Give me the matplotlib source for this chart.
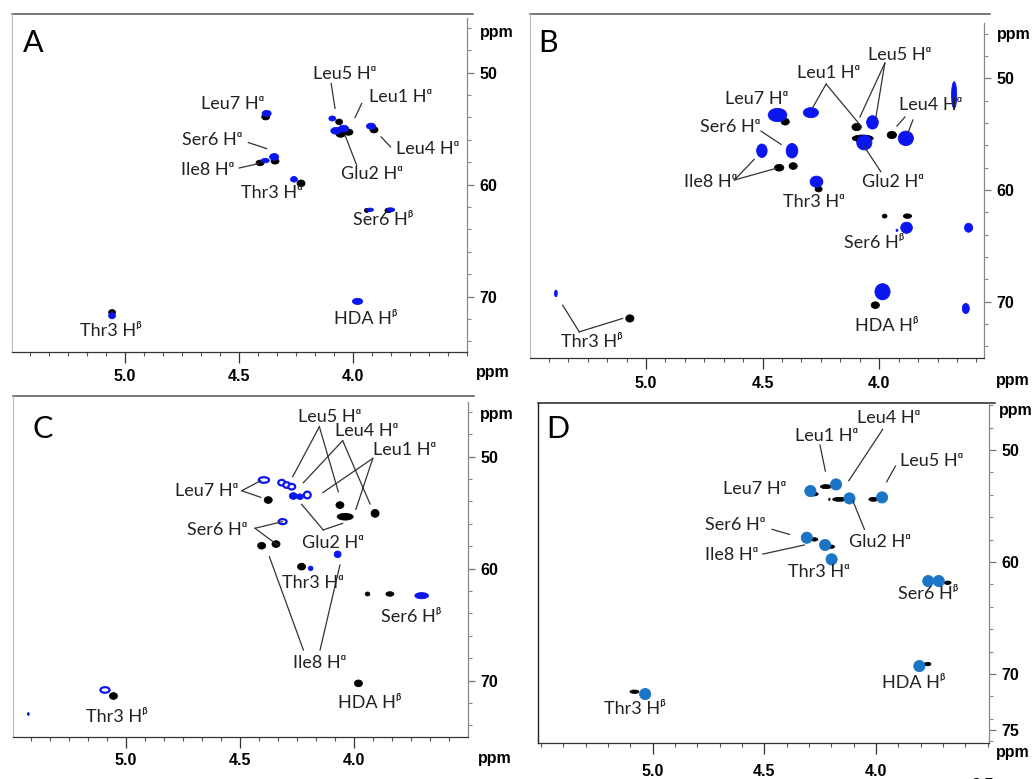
import matplotlib
matplotlib.use("Agg")
import matplotlib.pyplot as plt
from matplotlib.patches import Ellipse
from matplotlib.ticker import MultipleLocator, FixedLocator

W, H = 1036, 779
BLUE = '#0b16ee'
BLUE_D = '#1b75c6'
LBL_FONT = ['Lato', 'DejaVu Sans']
TICK_FONT = 'Liberation Sans'
A_ = 'H\u1d45'   # H alpha
B_ = 'H\u1d5d'   # H beta

# peaks: (1H ppm, 13C ppm, width ppm, height ppm)
a_black = [(4.383, 53.94, .035, .55), (4.061, 54.39, .03, .5), (4.054, 55.49, .04, .55),
           (4.020, 55.31, .04, .55), (3.908, 55.10, .035, .55), (4.342, 57.91, .035, .5),
           (4.408, 58.06, .035, .5), (4.228, 59.88, .035, .6), (3.940, 62.30, .02, .35),
           (3.845, 62.30, .03, .4), (3.980, 70.42, .03, .4), (5.057, 71.40, .03, .5)]
a_blue = [(4.379, 53.64, .04, .55), (4.091, 54.09, .03, .45), (4.075, 55.19, .045, .6),
          (4.042, 54.99, .045, .6), (3.921, 54.78, .04, .55), (4.346, 57.52, .04, .6),
          (4.385, 57.85, .035, .4), (4.259, 59.52, .03, .5), (3.925, 62.24, .03, .3),
          (3.835, 62.24, .035, .35), (3.980, 70.42, .045, .55), (5.057, 71.70, .03, .55)]

b_black = [(4.403, 53.88, .035, .6), (4.097, 54.36, .04, .65), (4.071, 55.37, .09, .6),
           (3.946, 55.07, .04, .65), (4.429, 58.00, .04, .6), (4.369, 57.85, .035, .6),
           (4.260, 59.91, .03, .5), (3.977, 62.33, .02, .35), (3.879, 62.33, .035, .4),
           (4.017, 70.30, .035, .6), (5.069, 71.49, .035, .65)]
b_blue = [(4.436, 53.28, .08, 1.2), (4.293, 53.07, .065, .9), (4.029, 53.94, .05, 1.2),
          (4.064, 55.76, .065, 1.3), (3.886, 55.37, .065, 1.3), (3.679, 51.50, .022, 2.4),
          (4.503, 56.48, .045, 1.2), (4.374, 56.48, .05, 1.3), (4.269, 59.25, .055, 1.0),
          (3.883, 63.37, .05, 1.0), (3.924, 63.60, .008, .2), (3.617, 63.37, .035, .8),
          (3.986, 69.10, .065, 1.45), (3.629, 70.60, .03, .9), (5.386, 69.25, .012, .6)]

c_black = [(4.377, 53.87, .035, .6), (4.063, 54.32, .035, .6), (4.040, 55.36, .07, .6),
           (3.909, 55.06, .035, .7), (4.406, 57.95, .035, .6), (4.343, 57.80, .035, .6),
           (4.231, 59.82, .035, .6), (3.942, 62.26, .02, .35), (3.844, 62.26, .035, .4),
           (3.982, 70.24, .035, .6), (5.055, 71.37, .035, .6)]
c_blue = [(4.396, 52.08, .045, .5), (4.318, 52.32, .03, .5), (4.296, 52.53, .03, .5),
          (4.274, 52.68, .03, .5), (4.267, 53.51, .035, .6), (4.238, 53.57, .03, .5),
          (4.206, 53.42, .03, .6), (4.314, 55.80, .035, .45), (4.073, 58.72, .03, .6),
          (4.191, 59.97, .02, .4), (3.705, 62.41, .06, .55), (5.092, 70.83, .04, .5),
          (5.428, 72.98, .008, .25)]
c_blue_open = [True, True, True, True, False, False, True, True, False, False, False, True, False]

d_black = [(4.284, 53.93, .05, .35), (4.224, 53.27, .05, .35), (4.164, 54.40, .06, .35),
           (4.209, 54.40, .006, .2), (4.012, 54.40, .04, .35), (4.276, 57.98, .03, .3),
           (4.201, 58.63, .03, .3), (3.679, 61.85, .03, .3), (3.769, 69.11, .03, .3),
           (5.082, 71.58, .04, .3)]
d_blue = [(4.294, 53.66, .05, 1.0), (4.179, 53.07, .05, 1.0), (4.119, 54.32, .05, 1.0),
          (3.973, 54.23, .05, 1.0), (4.310, 57.83, .05, 1.0), (4.228, 58.48, .05, 1.0),
          (4.199, 59.76, .05, 1.0), (3.766, 61.70, .05, 1.0), (3.719, 61.70, .05, 1.0),
          (3.806, 69.29, .05, 1.0), (5.034, 71.79, .05, 1.0)]

# labels: (text, x, y)
a_labels = [('Leu5 ' + A_, 4.035, 50.12), ('Leu1 ' + A_, 3.791, 52.15), ('Leu7 ' + A_, 4.529, 52.81),
            ('Ser6 ' + A_, 4.620, 55.97), ('Leu4 ' + A_, 3.671, 56.84), ('Ile8 ' + A_, 4.636, 58.72),
            ('Glu2 ' + A_, 3.917, 59.01), ('Thr3 ' + A_, 4.357, 60.75), ('Ser6 ' + B_, 3.867, 63.19),
            ('HDA ' + B_, 3.944, 72.0), ('Thr3 ' + B_, 5.063, 73.04)]
b_labels = [('Leu5 ' + A_, 3.914, 47.91), ('Leu1 ' + A_, 4.217, 49.55), ('Leu7 ' + A_, 4.526, 51.85),
            ('Leu4 ' + A_, 3.779, 52.39), ('Ser6 ' + A_, 4.639, 54.33), ('Ile8 ' + A_, 4.721, 59.25),
            ('Glu2 ' + A_, 3.943, 59.25), ('Thr3 ' + A_, 4.279, 61.04), ('Ser6 ' + B_, 4.021, 64.72),
            ('HDA ' + B_, 3.969, 72.18), ('Thr3 ' + B_, 5.231, 73.58)]
c_labels = [('Leu5 ' + A_, 4.109, 46.43), ('Leu4 ' + A_, 3.946, 47.68), ('Leu1 ' + A_, 3.778, 49.40),
            ('Leu7 ' + A_, 4.647, 53.04), ('Ser6 ' + A_, 4.599, 56.55), ('Glu2 ' + A_, 4.096, 57.68),
            ('Thr3 ' + A_, 4.180, 61.31), ('Ser6 ' + B_, 3.752, 64.35), ('Ile8 ' + A_, 4.150, 68.39),
            ('HDA ' + B_, 3.931, 72.02), ('Thr3 ' + B_, 5.041, 73.21)]
d_labels = [('Leu4 ' + A_, 3.943, 47.17), ('Leu1 ' + A_, 4.221, 48.75), ('Leu5 ' + A_, 3.751, 50.95),
            ('Leu7 ' + A_, 4.542, 53.51), ('Ser6 ' + A_, 4.631, 56.70), ('Glu2 ' + A_, 3.981, 58.18),
            ('Ile8 ' + A_, 4.649, 59.38), ('Thr3 ' + A_, 4.258, 60.86), ('Ser6 ' + B_, 3.766, 62.86),
            ('HDA ' + B_, 3.833, 70.83), ('Thr3 ' + B_, 5.082, 73.15)]

# leader lines (x0, y0, x1, y1)
a_lines = [(4.096, 50.96, 4.079, 53.19), (3.962, 52.75, 3.991, 54.0), (4.459, 56.24, 4.379, 56.78),
           (3.877, 55.73, 3.835, 56.63), (4.499, 58.51, 4.415, 58.12), (4.035, 55.58, 3.984, 58.27)]
b_lines = [(4.228, 50.51, 4.284, 52.57), (4.228, 50.51, 4.078, 54.27),
           (3.976, 48.63, 4.083, 53.46), (3.976, 48.63, 4.014, 53.46),
           (3.890, 53.46, 3.924, 54.27), (3.856, 53.73, 3.877, 54.90),
           (4.507, 54.72, 4.421, 55.91),
           (4.621, 59.10, 4.536, 57.25), (4.621, 59.10, 4.443, 58.06),
           (3.993, 58.36, 4.064, 56.12),
           (5.286, 72.69, 5.357, 70.30), (5.286, 72.69, 5.10, 71.49)]
c_lines = [(4.153, 47.32, 4.270, 51.79), (4.153, 47.32, 4.070, 53.13),
           (4.051, 48.57, 4.223, 52.32), (4.051, 48.57, 3.931, 54.22),
           (3.919, 50.15, 4.138, 53.21), (3.919, 50.15, 3.993, 54.70),
           (4.136, 56.54, 4.231, 54.25), (4.136, 56.54, 4.051, 55.95),
           (4.493, 53.04, 4.410, 52.14), (4.493, 53.04, 4.410, 53.63),
           (4.435, 56.39, 4.315, 55.80), (4.435, 56.39, 4.337, 57.88),
           (4.223, 67.26, 4.372, 58.93), (4.150, 67.26, 4.063, 59.67)]
d_lines = [(4.251, 49.55, 4.227, 51.88), (3.970, 48.15, 4.122, 52.74), (3.913, 51.43, 3.952, 52.83),
           (4.466, 57.08, 4.388, 57.53), (4.507, 59.29, 4.321, 58.48), (4.052, 57.08, 4.104, 54.52)]

fig = plt.figure(figsize=(W / 100, H / 100), dpi=100)


def px_axes(l, t, r, b):
    return fig.add_axes([l / W, 1 - b / H, (r - l) / W, (b - t) / H])


def fig_text(x, y, s, **kw):
    fig.text(x / W, 1 - y / H, s, ha='center', va='center', **kw)


def setup(ax, xlim, ylim, ytop, xminor, yticks, xpad, dark=False):
    ax.set_xlim(*xlim)
    ax.set_ylim(*ylim)
    ax.yaxis.tick_right()
    ax.xaxis.set_major_locator(FixedLocator([5.0, 4.5, 4.0]))
    ax.xaxis.set_minor_locator(MultipleLocator(xminor))
    ax.yaxis.set_major_locator(FixedLocator(yticks))
    ax.yaxis.set_minor_locator(MultipleLocator(2))
    ax.xaxis.set_major_formatter(plt.FuncFormatter(lambda v, p: '%.1f' % v))
    ax.tick_params(axis='x', which='major', length=8, width=0.9, color='#333', pad=xpad,
                   labelsize=11.5)
    ax.tick_params(axis='x', which='minor', length=3, width=0.8, color='#555')
    ax.tick_params(axis='y', which='major', length=5, width=0.9, color='#777', pad=4,
                   labelsize=11.5)
    ax.tick_params(axis='y', which='minor', length=3, width=0.8, color='#888')
    for t in ax.get_xticklabels() + ax.get_yticklabels():
        t.set_fontweight('bold')
        t.set_fontfamily(TICK_FONT)
    ax.spines['left'].set_color('#222' if dark else '#bbbbbb')
    ax.spines['left'].set_linewidth(1.0 if dark else 0.8)
    ax.spines['right'].set_color('#888')
    ax.spines['right'].set_linewidth(0.9)
    ax.spines['right'].set_bounds(ylim[0], ytop)
    ax.spines['bottom'].set_color('#333')
    ax.spines['bottom'].set_linewidth(0.9)
    ax.spines['top'].set_visible(False)
    ax.plot([0, 1.013], [1, 1], transform=ax.transAxes, clip_on=False,
            color='#222' if dark else '#555', lw=1.1)


def draw(ax, peaks, color, hollow=None):
    for i, (x, y, w, h) in enumerate(peaks):
        if hollow is not None and hollow[i]:
            ax.add_patch(Ellipse((x, y), w, h, facecolor='white', edgecolor=color, lw=1.6))
        else:
            ax.add_patch(Ellipse((x, y), w, h, facecolor=color, edgecolor=color, lw=0.6))


def annotate(ax, labels, lines):
    for x0, y0, x1, y1 in lines:
        ax.plot([x0, x1], [y0, y1], color='#333', lw=0.9)
    for s, x, y in labels:
        ax.text(x, y, s, ha='center', va='center', fontsize=13, family=LBL_FONT, color='#222')


# panel A
axA = px_axes(12, 14, 467, 352)
setup(axA, (5.496, 3.5), (74.94, 44.76), 45.1, 0.5 / 6, [50, 60, 70], 4)
draw(axA, a_black, 'black')
draw(axA, a_blue, BLUE)
annotate(axA, a_labels, a_lines)

# panel B
axB = px_axes(530, 14, 984, 358)
setup(axB, (5.497, 3.551), (75.03, 44.24), 45.05, 0.5 / 6, [50, 60, 70], 5)
draw(axB, b_black, 'black')
draw(axB, b_blue, BLUE)
annotate(axB, b_labels, b_lines)

# panel C
axC = px_axes(13, 396, 468, 737)
setup(axC, (5.495, 3.502), (75.03, 44.58), 45.11, 0.5 / 6, [50, 60, 70], 3.5)
draw(axC, c_black, 'black')
draw(axC, c_blue, BLUE, c_blue_open)
annotate(axC, c_labels, c_lines)

# panel D
axD = px_axes(538, 403, 989, 743)
setup(axD, (5.514, 3.494), (76.16, 45.8), 45.8, 0.1, [50, 60, 70, 75], 7, dark=True)
draw(axD, d_black, 'black')
draw(axD, d_blue, BLUE_D)
annotate(axD, d_labels, d_lines)

# panel letters and ppm units
for (x, y), s in zip([(33, 43), (548, 43), (43, 429), (558, 429)], 'ABCD'):
    fig_text(x, y, s, fontsize=22, family=LBL_FONT)
for x, y in [(497, 32), (493, 373), (1014, 35), (1013, 380), (497, 415), (495, 758),
             (1016, 410), (1013, 752)]:
    fig_text(x, y, 'ppm', fontsize=11.5, fontweight='bold', family=TICK_FONT)
fig_text(983, 786, '3.5', fontsize=11.5, fontweight='bold', family=TICK_FONT)

fig.savefig('out.png', dpi=100)
